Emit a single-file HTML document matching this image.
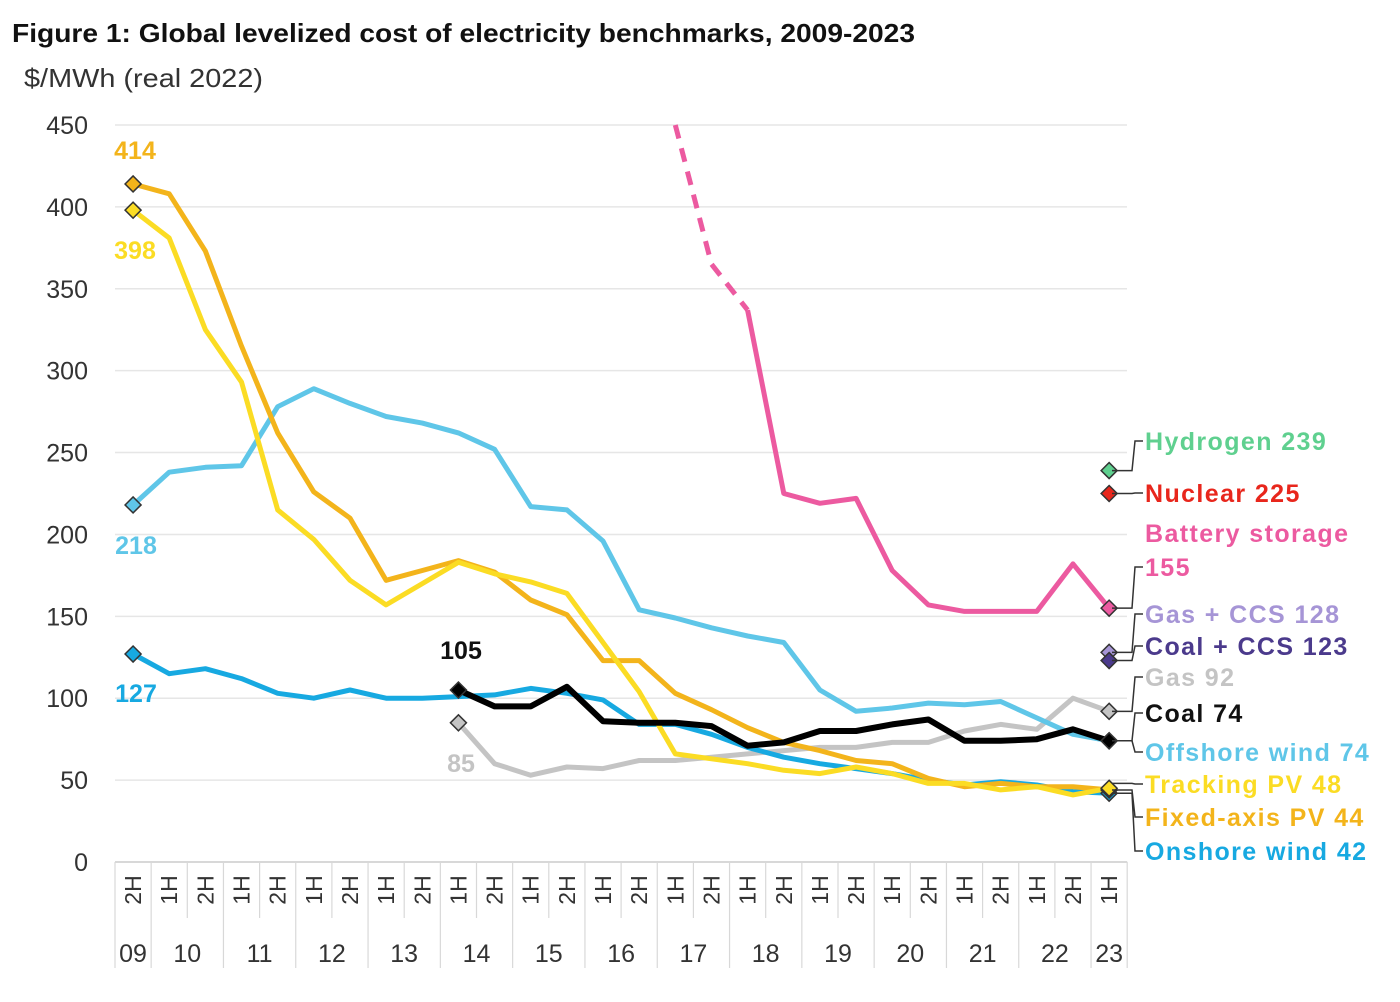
<!DOCTYPE html>
<html><head><meta charset="utf-8"><style>
body{margin:0;background:#fff;width:1400px;height:997px;overflow:hidden;font-family:"Liberation Sans",Arial,sans-serif}
svg text{font-family:"Liberation Sans",Arial,sans-serif}
</style></head><body>
<svg id="chart" width="1400" height="997" xmlns="http://www.w3.org/2000/svg">
<text x="12" y="42" font-size="26" font-weight="bold" fill="#111" textLength="903" lengthAdjust="spacingAndGlyphs">Figure 1: Global levelized cost of electricity benchmarks, 2009-2023</text>
<text x="24" y="87" font-size="26" fill="#333" textLength="239" lengthAdjust="spacingAndGlyphs">$/MWh (real 2022)</text>
<g id="grid"></g><g id="axis"></g><g id="lines"></g><g id="labels"></g>
</svg>
<script>
const halves=["2H","1H","2H","1H","2H","1H","2H","1H","2H","1H","2H","1H","2H","1H","2H","1H","2H","1H","2H","1H","2H","1H","2H","1H","2H","1H","2H","1H"];
const years=["09","10","11","12","13","14","15","16","17","18","19","20","21","22","23"];
const yTicks=[0,50,100,150,200,250,300,350,400,450];
const fixedPV=[414,408,373,315,262,226,210,172,178,184,177,160,151,123,123,103,93,82,73,68,62,60,51,46,48,46,46,44];
const trackingPV=[398,381,325,293,215,197,172,157,170,183,176,171,164,134,104,66,63,60,56,54,58,54,48,48,44,46,41,45];
const offshore=[218,238,241,242,278,289,280,272,268,262,252,217,215,196,154,149,143,138,134,105,92,94,97,96,98,88,78,74];
const onshore=[127,115,118,112,103,100,105,100,100,101,102,106,103,99,84,84,78,70,64,60,57,54,50,47,49,47,43,42];
const coal=[null,null,null,null,null,null,null,null,null,105,95,95,107,86,85,85,83,71,73,80,80,84,87,74,74,75,81,74];
const gas=[null,null,null,null,null,null,null,null,null,85,60,53,58,57,62,62,64,66,68,70,70,73,73,80,84,81,100,92];
const batteryDash=[null,null,null,null,null,null,null,null,null,null,null,null,null,null,null,450,365,337,null,null,null,null,null,null,null,null,null,null];
const battery=[null,null,null,null,null,null,null,null,null,null,null,null,null,null,null,null,null,337,225,219,222,178,157,153,153,153,182,155];
const singles=[["hydrogen",239,"#5fd08f"],["nuclear",225,"#e8261c"],["gas-ccs",128,"#a695d6"],["coal-ccs",123,"#4b3a8c"]];
const NS="http://www.w3.org/2000/svg";
const X0=115,CW=36.15,Y0=862,YS=737/450;
const xs=i=>X0+CW/2+i*CW, ys=v=>Y0-v*YS;
function mk(t,a,p){const e=document.createElementNS(NS,t);for(const k in a)e.setAttribute(k,a[k]);(p||document.getElementById('chart')).appendChild(e);return e;}
const G=document.getElementById('grid'),A=document.getElementById('axis'),L=document.getElementById('lines'),T=document.getElementById('labels');
yTicks.forEach(v=>{
 if(v>0){const g=mk('line',{x1:X0,x2:1127,y1:ys(v),y2:ys(v),stroke:'#e6e6e6','stroke-width':1.5},G);
 
 }
 const t=mk('text',{x:88,y:ys(v)+9,'font-size':25,'text-anchor':'end',fill:'#333'},A);t.textContent=v;
 
 
});
const ax=mk('line',{x1:X0,x2:X0+28*CW,y1:Y0,y2:Y0,stroke:'#ccc','stroke-width':1.5},A);


for(let i=0;i<=28;i++){
 const x=X0+i*CW;const yearB=(i===0||i===28||halves[i]==="1H");
 const l=mk('line',{x1:x,x2:x,y1:Y0,y2:yearB?968:918,stroke:'#d8d8d8','stroke-width':1.2},A);
 
 
}
halves.forEach((h,i)=>{
 const t=mk('text',{'font-size':23,'text-anchor':'middle',fill:'#333',transform:`translate(${xs(i)+8},${890}) rotate(-90)`},A);t.textContent=h;
 
 
});
years.forEach((y,k)=>{
 let x;if(k===0)x=xs(0);else if(k===years.length-1)x=xs(27);else x=(xs(2*k-1)+xs(2*k))/2;
 const t=mk('text',{x:x,y:962,'font-size':25,'text-anchor':'middle',fill:'#333'},A);t.textContent=y;
 
 
});
function series(arr,color,name,w,dash){
 let d='';arr.forEach((v,i)=>{if(v==null)return;d+=(d?'L':'M')+xs(i).toFixed(1)+','+ys(v).toFixed(1);});
 const p=mk('path',{d:d,fill:'none',stroke:color,'stroke-width':w||5,'stroke-linejoin':'round'},L);
 if(dash)p.setAttribute('stroke-dasharray',dash);
 
 
}
function diamond(i,v,color,name){
 const x=xs(i),y=ys(v),s=8;
 const p=mk('path',{d:`M${x},${y-s}L${x+s},${y}L${x},${y+s}L${x-s},${y}Z`,fill:color,stroke:'#333','stroke-width':1.5},L);
 
 
}
series(gas,'#c4c4c4','gas-line');
series(offshore,'#5fc6e8','offshore-wind-line');
series(onshore,'#17a9e1','onshore-wind-line');
series(fixedPV,'#f3b41b','fixed-axis-pv-line');
series(trackingPV,'#fbdc24','tracking-pv-line');
series(coal,'#000','coal-line',6);
series(batteryDash,'#ec5aa0','battery-storage-dashed-line',5,'14 10');
series(battery,'#ec5aa0','battery-storage-line');
diamond(0,fixedPV[0],'#f3b41b','fixed-pv-start-marker');
diamond(0,trackingPV[0],'#fbdc24','tracking-pv-start-marker');
diamond(0,offshore[0],'#5fc6e8','offshore-start-marker');
diamond(0,onshore[0],'#17a9e1','onshore-start-marker');
diamond(9,coal[9],'#000','coal-start-marker');
diamond(9,gas[9],'#c4c4c4','gas-start-marker');
singles.forEach(s=>diamond(27,s[1],s[2],s[0]+'-marker'));
diamond(27,battery[27],'#ec5aa0','battery-end-marker');
diamond(27,gas[27],'#c4c4c4','gas-end-marker');
diamond(27,offshore[27],'#5fc6e8','offshore-end-marker');
diamond(27,onshore[27],'#17a9e1','onshore-end-marker');
diamond(27,fixedPV[27],'#f3b41b','fixed-end-marker');
diamond(27,trackingPV[27],'#fbdc24','tracking-end-marker');
diamond(27,coal[27],'#000','coal-end-marker');
function lbl(txt,x,y,color,name,anchor,ls){const t=mk('text',{x:x,y:y,'font-size':25,'font-weight':'bold',fill:color,'text-anchor':anchor||'start'},T);t.textContent=txt;
 if(ls)t.setAttribute('letter-spacing',ls);
 
 }
lbl(fixedPV[0],135,159,'#f3b41b','fixed-pv-start-value','middle');
lbl(trackingPV[0],135,259,'#fbdc24','tracking-pv-start-value','middle');
lbl(offshore[0],136,554,'#5fc6e8','offshore-start-value','middle');
lbl(onshore[0],136,702,'#17a9e1','onshore-start-value','middle');
lbl(coal[9],461,659,'#111','coal-start-value','middle');
lbl(gas[9],461,772,'#c4c4c4','gas-start-value','middle');
const right=[["Hydrogen  239",450,"#5fd08f",ys(239)],["Nuclear  225",502,"#e8261c",ys(225)],["Battery storage",542,"#ec5aa0",null],["155",576,"#ec5aa0",ys(155)],["Gas + CCS  128",623,"#a695d6",ys(128)],["Coal + CCS  123",655,"#4b3a8c",ys(123)],["Gas  92",686,"#c4c4c4",ys(92)],["Coal  74",722,"#111",ys(74)],["Offshore wind  74",761,"#5fc6e8",ys(74)],["Tracking PV  48",793,"#fbdc24",ys(48)],["Fixed-axis PV  44",826,"#f3b41b",ys(44)],["Onshore wind  42",860,"#17a9e1",ys(42)]];
right.forEach(r=>{
 lbl(r[0],1145,r[1],r[2],'legend-label','start','1.4');
 if(r[3]!=null){const ly=r[1]-9;const l=mk('path',{d:`M1112,${r[3]}L1132,${r[3]}L1135,${ly}L1143,${ly}`,fill:'none',stroke:'#333','stroke-width':1.5},T);
 
 }
});
</script>
</body></html>
